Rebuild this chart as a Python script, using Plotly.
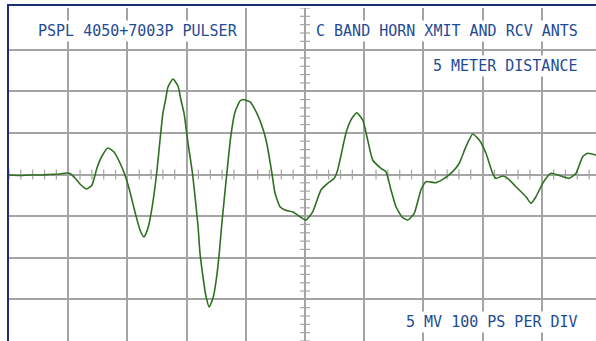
import numpy as np
import plotly.graph_objects as go

# Sampled pulse waveform: time in ps, amplitude in mV
time_ps = [0, 18.6, 35.5, 52.4, 69.3, 86.1, 96.3, 103.0, 111.5, 119.9, 131.3, 140.2,
           148.6, 157.1, 167.2, 177.4, 187.5, 195.9, 204.4, 212.8, 221.3, 228.0, 234.8,
           241.0, 249.5, 255.1, 260.1, 264.4, 268.6, 277.0, 285.5, 290.5, 295.6, 302.4,
           310.3, 319.3, 322.6, 327.7, 332.3, 338.3, 345.1, 350.8, 355.2, 359.8, 367.7,
           374.5, 381.8, 390.2, 395.8, 407.1, 418.4, 429.6, 435.3, 443.8, 449.3, 457.8,
           466.2, 479.7, 491.6, 501.7, 513.0, 527.0, 538.3, 549.5, 555.2, 569.3, 577.7,
           587.3, 597.5, 605.9, 614.4, 628.4, 636.8, 645.3, 653.7, 663.9, 673.5, 684.6,
           695.9, 704.4, 721.3, 735.3, 749.5, 760.6, 771.9, 783.3, 794.4, 805.7, 817.1,
           822.6, 833.9, 842.4, 856.4, 873.3, 881.8, 890.2, 901.5, 915.5, 935.3, 946.5,
           957.8, 969.1, 977.5, 991.6]
volts_mv = [-0.06, -0.12, -0.06, -0.06, 0.0, 0.06, 0.18, 0.12, -0.42, -1.14, -1.74, -1.26,
            0.78, 2.22, 3.18, 2.70, 1.38, -0.06, -2.10, -4.50, -6.67, -7.51, -6.43,
            -4.26, 0.18, 4.14, 7.39, 8.95, 10.51, 11.47, 10.63, 8.95, 7.39, 3.78,
            -0.06, -6.19, -9.43, -12.31, -14.47, -15.92, -14.71, -12.31, -9.43, -5.71, -0.06,
            4.50, 7.51, 8.83, 9.01, 8.71, 7.39, 5.35, 3.78, 0.30, -2.22, -3.87,
            -4.26, -4.50, -5.07, -5.47, -4.50, -1.86, -1.06, -0.46, 0.54, 4.98, 6.55,
            7.42, 6.55, 4.14, 1.74, 0.74, 0.34, -1.86, -3.87, -5.11, -5.47, -4.66,
            -1.86, -0.86, -0.98, -0.46, 0.34, 1.35, 3.34, 4.86, 4.14, 2.55, 0.14,
            -0.46, -0.18, -0.46, -1.47, -2.67, -3.46, -2.67, -1.06, 0.14, -0.26, -0.46,
            0.14, 2.14, 2.55, 2.34]

# Screen scale: 100 ps and 5 mV per division
x_div = 100
y_div = 5
x_range = [0, 991.6]
y_range = [-20, 20]

title_left = "PSPL 4050+7003P PULSER"
title_right = "C BAND HORN XMIT AND RCV ANTS"
subtitle = "5 METER DISTANCE"
scale_note = "5 MV 100 PS PER DIV"

W, H = 596, 341
ML, MT = 9, 8
PW, PH = W - ML, H - MT

grid_col = "#a4a4a4"
text_col = "#1f4b96"
trace_col = "#2f6f22"
frame_col = "#1c2f6e"


def px_x(px):
    return (px - ML) / PW


def px_y(py):
    return 1 - (py - MT) / PH


fig = go.Figure()

# Minor ticks along the centre cross-hair
cx = (x_range[0] + 500)
fig.add_trace(go.Scatter(
    x=np.arange(0, x_range[1], x_div / 5), y=np.zeros(len(np.arange(0, x_range[1], x_div / 5))),
    mode="markers", hoverinfo="skip", showlegend=False,
    marker=dict(symbol="line-ns", size=7, line=dict(width=1.2, color=grid_col), color=grid_col),
))
ty = np.arange(y_range[0], y_range[1] + 0.01, y_div / 5)
fig.add_trace(go.Scatter(
    x=np.full(len(ty), cx), y=ty,
    mode="markers", hoverinfo="skip", showlegend=False,
    marker=dict(symbol="line-ew", size=7, line=dict(width=1.2, color=grid_col), color=grid_col),
))

# Waveform
fig.add_trace(go.Scatter(
    x=time_ps, y=volts_mv, mode="lines", showlegend=False,
    line=dict(color=trace_col, width=1.6, shape="spline", smoothing=0.5),
))

axis_common = dict(showticklabels=False, ticks="", zeroline=False, showline=False,
                   showgrid=True, gridcolor=grid_col, gridwidth=1.5, fixedrange=True)
fig.update_xaxes(range=x_range, dtick=x_div, tick0=0, **axis_common)
fig.update_yaxes(range=y_range, dtick=y_div, tick0=0, **axis_common)

# Screen frame (top and left edges)
fig.add_shape(type="line", xref="paper", yref="paper",
              x0=px_x(7), x1=px_x(W + 2), y0=px_y(5), y1=px_y(5),
              line=dict(color=frame_col, width=2))
fig.add_shape(type="line", xref="paper", yref="paper",
              x0=px_x(8), x1=px_x(8), y0=px_y(4), y1=px_y(H + 2),
              line=dict(color=frame_col, width=2))

font = dict(family="DejaVu Sans Mono, Liberation Mono, monospace", size=15, color=text_col)
ann = dict(xref="paper", yref="paper", showarrow=False, font=font,
           bgcolor="white", borderpad=1, yanchor="middle")
fig.add_annotation(text=title_left, x=px_x(36), y=px_y(31), xanchor="left", **ann)
fig.add_annotation(text=title_right, x=px_x(580), y=px_y(31), xanchor="right", **ann)
fig.add_annotation(text=subtitle, x=px_x(580), y=px_y(66), xanchor="right", **ann)
fig.add_annotation(text=scale_note, x=px_x(580), y=px_y(322), xanchor="right", **ann)

fig.update_layout(
    width=W, height=H,
    margin=dict(l=ML, r=0, t=MT, b=0, pad=0),
    paper_bgcolor="white", plot_bgcolor="white",
    showlegend=False,
)

fig.write_html("out.html", config={"displayModeBar": False})
